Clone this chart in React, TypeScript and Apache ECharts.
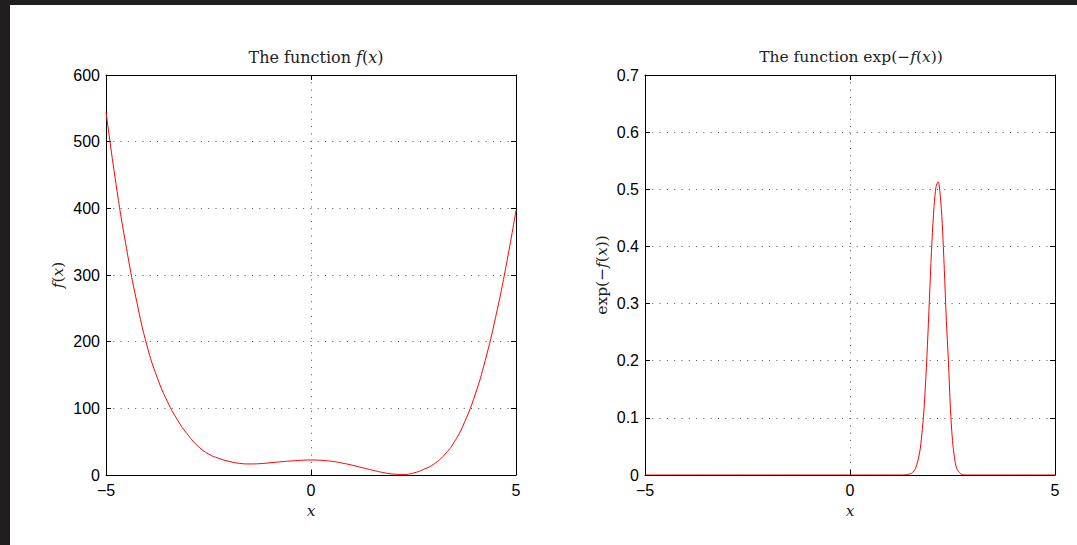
import React, { useEffect, useRef } from 'react';
import * as echarts from 'echarts';

// f(x)
const fX = [-5, -4.75, -4.5, -4.25, -4, -3.75, -3.5, -3.25, -3, -2.75, -2.5, -2.25, -2, -1.75, -1.5, -1.25, -1, -0.75, -0.5, -0.25, 0, 0.25, 0.5, 0.75, 1, 1.25, 1.5, 1.75, 2, 2.25, 2.5, 2.75, 3, 3.25, 3.5, 3.75, 4, 4.25, 4.5, 4.75, 5];
const fY = [545, 434, 340, 260, 194, 146, 110, 82, 60, 43, 31.5, 25, 20.5, 17.5, 16.6, 17, 18.3, 19.8, 21, 22, 22.5, 22, 20.6, 18, 14.8, 11, 7.2, 3.8, 1.4, 0.8, 3, 8.5, 16.5, 30, 50, 80, 120, 172, 236, 311, 397];

// exp(-f(x))
const gX = [-5, 0, 1.3, 1.4, 1.5, 1.6, 1.7, 1.75, 1.8, 1.85, 1.9, 1.95, 2.0, 2.05, 2.1, 2.15, 2.2, 2.25, 2.3, 2.35, 2.4, 2.45, 2.5, 2.55, 2.6, 2.7, 2.8, 5];
const gY = [0, 0, 0, 0.001, 0.003, 0.012, 0.04, 0.07, 0.11, 0.17, 0.245, 0.33, 0.41, 0.47, 0.505, 0.513, 0.49, 0.44, 0.36, 0.27, 0.2, 0.115, 0.06, 0.03, 0.012, 0.002, 0, 0];

const leftTitle = ['The function ', 'f', '(', 'x', ')'];
const rightTitle = ['The function exp(', '−', 'f', '(', 'x', '))'];

const SANS = '"Liberation Sans", Arial, sans-serif';
const SERIF = '"DejaVu Serif", "Liberation Serif", serif';

export default function App() {
  const ref = useRef<HTMLDivElement>(null);
  useEffect(() => {
    if (!ref.current) return;
    const chart = echarts.init(ref.current, null, { renderer: 'svg' });
    const fData = fX.map((x, i) => [x, fY[i]]);
    const gData = gX.map((x, i) => [x, gY[i]]);

    const rich = {
      n: { fontFamily: SERIF, fontSize: 15.5, fontWeight: 'normal', color: '#222' },
      i: { fontFamily: SERIF, fontSize: 15.5, fontWeight: 'normal', fontStyle: 'italic', color: '#222' },
    };
    const richT = {
      n: { fontFamily: SERIF, fontSize: 16, fontWeight: 'normal', color: '#222' },
      i: { fontFamily: SERIF, fontSize: 16, fontWeight: 'normal', fontStyle: 'italic', color: '#222' },
    };

    const minus = (v: number) => String(v).replace('-', '−');
    const lineStyle = { color: '#000', width: 1 };
    const split = { show: true, lineStyle: { color: '#555', type: [1, 6.3] as any, width: 1 } };

    const xBase = (grid: number) => ({
      type: 'value', gridIndex: grid, min: -5, max: 5, interval: 5,
      axisLine: { show: true, onZero: false, lineStyle },
      axisTick: { show: true, inside: true, length: 5, lineStyle },
      splitLine: split,
    });
    const xTop = (grid: number) => ({
      type: 'value', gridIndex: grid, min: -5, max: 5, interval: 5, position: 'top',
      axisLine: { show: true, onZero: false, lineStyle },
      axisTick: { show: true, inside: true, length: 5, lineStyle },
      axisLabel: { show: false }, splitLine: { show: false },
    });
    const tickLabel = { fontFamily: SANS, fontSize: 16, color: '#000' };

    chart.setOption({
      animation: false,
      backgroundColor: '#fff',
      graphic: [
        { type: 'rect', shape: { x: 0, y: 0, width: 1077, height: 5 }, style: { fill: '#211e1f' } },
        { type: 'rect', shape: { x: 0, y: 0, width: 10, height: 545 }, style: { fill: '#211e1f' } },
      ],
      title: [
        {
          text: '{n|' + leftTitle[0] + '}{i|' + leftTitle[1] + '}{n|' + leftTitle[2] + '}{i|' + leftTitle[3] + '}{n|' + leftTitle[4] + '}',
          left: 311, top: 44, textAlign: 'center',
          textStyle: { fontWeight: 'normal', rich: richT },
        },
        {
          text: '{n|' + rightTitle[0] + '}{n|' + rightTitle[1] + '}{i|' + rightTitle[2] + '}{n|' + rightTitle[3] + '}{i|' + rightTitle[4] + '}{n|' + rightTitle[5] + '}',
          left: 846, top: 44, textAlign: 'center',
          textStyle: { fontWeight: 'normal', rich },
        },
      ],
      grid: [
        { left: 106, right: 561, top: 75, bottom: 70 },
        { left: 645, right: 22, top: 75, bottom: 70 },
      ],
      xAxis: [
        {
          ...xBase(0),
          name: '{i|x}', nameLocation: 'middle', nameGap: 25, nameTextStyle: { rich },
          axisLabel: { ...tickLabel, margin: 7, formatter: minus },
        },
        {
          ...xBase(1),
          name: '{i|x}', nameLocation: 'middle', nameGap: 25, nameTextStyle: { rich },
          axisLabel: { ...tickLabel, margin: 7, formatter: minus },
        },
        xTop(0),
        xTop(1),
      ],
      yAxis: [
        {
          type: 'value', gridIndex: 0, min: 0, max: 600, interval: 100,
          axisLine: { show: true, onZero: false, lineStyle },
          axisTick: { show: true, inside: true, length: 5, lineStyle },
          axisLabel: { ...tickLabel, margin: 6 },
          splitLine: split,
          name: '{i|f}{n|(}{i|x}{n|)}', nameLocation: 'middle', nameGap: 40, nameTextStyle: { rich },
        },
        {
          type: 'value', gridIndex: 1, min: 0, max: 0.7, interval: 0.1,
          axisLine: { show: true, onZero: false, lineStyle },
          axisTick: { show: true, inside: true, length: 5, lineStyle },
          axisLabel: { ...tickLabel, margin: 6, formatter: (v: number) => (v === 0 ? '0' : v.toFixed(1)) },
          splitLine: split,
          name: '{n|exp(−}{i|f}{n|(}{i|x}{n|))}', nameLocation: 'middle', nameGap: 35, nameTextStyle: { rich },
        },
        {
          type: 'value', gridIndex: 0, min: 0, max: 600, interval: 100, position: 'right',
          axisLine: { show: true, onZero: false, lineStyle },
          axisTick: { show: true, inside: true, length: 5, lineStyle },
          axisLabel: { show: false }, splitLine: { show: false },
        },
        {
          type: 'value', gridIndex: 1, min: 0, max: 0.7, interval: 0.1, position: 'right',
          axisLine: { show: true, onZero: false, lineStyle },
          axisTick: { show: true, inside: true, length: 5, lineStyle },
          axisLabel: { show: false }, splitLine: { show: false },
        },
      ],
      series: [
        {
          type: 'line', xAxisIndex: 0, yAxisIndex: 0, data: fData, smooth: 0.5, showSymbol: false,
          lineStyle: { color: '#ff0000', width: 1 }, z: 5,
        },
        {
          type: 'line', xAxisIndex: 1, yAxisIndex: 1, data: gData, smooth: 0.3, showSymbol: false,
          lineStyle: { color: '#ff0000', width: 1 }, z: 5,
        },
      ],
    });
    return () => chart.dispose();
  }, []);
  return <div ref={ref} style={{ position: 'absolute', left: 0, top: 0, width: 1077, height: 545 }} />;
}
